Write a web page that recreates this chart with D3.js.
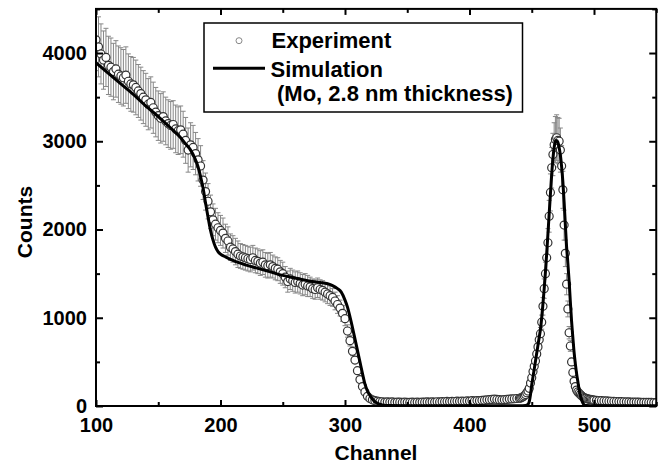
<!DOCTYPE html>
<html><head><meta charset="utf-8">
<script src="https://cdn.jsdelivr.net/npm/d3@7"></script>
<style>body{margin:0;background:#fff} svg{display:block}</style>
</head><body>
<svg id="c" width="660" height="464"></svg>
<script>
// ---------- data ----------
const expChannel = [
100,102,104,106,108,110,112,114,116,118,
120,122,124,126,128,130,132,134,136,138,
140,142,144,146,148,150,152,154,156,158,
160,162,164,166,168,170,172,174,176,178,
180,182,184,186,188,190,192,194,196,198,
200,202,204,206,208,210,212,214,216,218,
220,222,224,226,228,230,232,234,236,238,
240,242,244,246,248,250,252,254,256,258,
260,262,264,266,268,270,272,274,276,278,
280,282,284,286,288,290,292,294,296,298,
300,302,304,306,308,310,312,314,316,318,
320,322,324,326,328,330,332,334,336,338,
340,342,344,346,348,350,352,354,356,358,
360,362,364,366,368,370,372,374,376,378,
380,382,384,386,388,390,392,394,396,398,
400,402,404,406,408,410,412,414,416,418,
420,422,424,426,428,430,432,434,436,438,
440,
441,442,443,444,445,446,447,448,449,450,
451,452,453,454,455,456,457,458,459,460,
461,462,463,464,465,466,467,468,469,470,
471,472,473,474,475,476,477,478,479,480,
481,482,483,484,485,486,487,488,489,490,
491,492,493,494,495,496,497,498,499,500,
502,504,506,508,510,512,514,516,518,520,
522,524,526,528,530,532,534,536,538,540,
542,544,546,548,550];
const expCounts = [
4150,4070,3990,3920,3950,3860,3840,3790,3820,3760,
3740,3720,3750,3680,3650,3640,3610,3570,3540,3500,
3470,3420,3440,3380,3330,3290,3260,3280,3230,3200,
3180,3190,3140,3120,3130,3080,3010,2900,2960,2930,
2860,2790,2720,2560,2430,2320,2200,2110,2060,2020,
1990,1960,1900,1870,1800,1780,1750,1720,1700,1690,
1680,1670,1660,1680,1650,1640,1620,1630,1600,1590,
1600,1580,1560,1550,1520,1500,1460,1410,1440,1420,
1400,1410,1390,1370,1380,1360,1350,1330,1320,1340,
1320,1310,1290,1270,1250,1230,1190,1150,1110,1050,
990,850,740,620,520,400,300,220,160,110,
85,70,60,55,50,48,45,47,44,46,
42,45,43,40,44,42,40,43,41,44,
42,45,43,46,44,47,45,48,46,50,
48,52,50,53,51,55,53,56,54,58,
56,60,58,62,60,64,66,70,72,75,
78,74,72,70,72,75,78,80,82,85,
88,
90,95,105,115,130,150,170,200,260,320,
390,450,510,590,670,750,820,950,1130,1330,
1500,1680,1850,2150,2420,2700,2850,2960,3020,3040,
3010,3000,2900,2720,2450,2050,1730,1380,1100,830,
680,500,380,280,220,180,160,145,130,115,
105,95,90,85,80,76,74,71,69,67,
64,62,60,58,57,55,54,52,51,50,
49,48,47,46,45,45,44,43,42,42,
41,40,40,39,38];
const expError = [
350,340,340,330,330,330,330,320,320,320,
320,320,320,310,310,310,310,300,300,300,
300,290,290,290,280,280,280,280,270,270,
270,270,270,270,270,260,260,250,250,250,
240,240,230,220,210,200,190,180,180,170,
170,170,160,160,150,150,150,150,140,140,
140,140,140,140,140,140,140,140,140,140,
140,130,130,130,130,130,120,120,120,120,
120,120,120,120,120,120,110,110,110,110,
110,110,110,110,110,100,100,100,90,90,
80,70,60,50,40,30,30,20,20,10,
10,10,10,10,10,10,10,10,10,10,
10,10,10,10,10,10,10,10,10,10,
10,10,10,10,10,10,10,10,10,10,
10,10,10,10,10,10,10,10,10,10,
10,10,10,10,10,10,10,10,10,10,
10,10,10,10,10,10,10,10,10,10,
10,
10,10,10,10,10,15,15,20,20,30,
30,40,40,50,60,60,70,80,100,110,
130,140,160,180,210,230,240,250,260,260,
260,260,250,230,210,170,150,120,90,70,
60,40,30,20,20,15,15,10,10,10,
10,10,10,10,10,10,10,10,10,10,
10,10,10,10,10,10,10,10,10,10,
10,10,10,10,10,10,10,10,10,10,
10,10,10,10,10];

const simChannel = [100,110,120,130,140,150,160,168,172,176,179,182,184,186,188,190,192,194,196,198,
200,204,210,220,230,240,250,260,270,280,286,290,294,297,300,302,304,306,308,310,
312,314,316,318,320,322,324,327,330,335,350,400,440,445,447,448,449,450,451,452,
453,454,455,456,457,458,459,460,461,462,463,464,465,466,467,468,469,470,471,472,
473,474,475,476,477,478,479,480,481,482,483,484,485,486,487,488,489,490,491,492,
494,500,550];
const simCounts = [3890,3770,3650,3530,3400,3280,3150,3040,2970,2900,2820,2710,2600,2470,2300,2140,1990,1880,1800,1750,
1720,1690,1650,1600,1560,1520,1480,1450,1420,1400,1385,1365,1330,1290,1200,1120,1010,890,760,630,
500,370,250,170,120,80,50,25,12,5,3,3,3,5,20,50,130,240,330,420,
510,600,690,780,870,1000,1160,1330,1520,1730,1950,2180,2400,2620,2800,2930,3000,3010,2990,2930,
2840,2710,2540,2310,2050,1800,1620,1420,1180,960,780,610,480,370,280,190,120,70,35,15,
5,3,3];

const xTicks = [100,200,300,400,500];
const xMinorTicks = [150,250,350,450,550];
const yTicks = [0,1000,2000,3000,4000];
const yMinorTicks = [500,1500,2500,3500,4500];
const xTitle = "Channel", yTitle = "Counts";
const legendLabels = ["Experiment", "Simulation", "(Mo, 2.8 nm thickness)"];

// ---------- drawing ----------
const FONT = "'Liberation Sans', Arial, Helvetica, sans-serif";
const svg = d3.select("#c");
const x = d3.scaleLinear().domain([100,550]).range([96,656.25]);
const y = d3.scaleLinear().domain([0,4500]).range([406,8.9]);

svg.append("defs").append("clipPath").attr("id","clip")
  .append("rect").attr("x",96).attr("y",8.9).attr("width",560.25).attr("height",397.1);

const exp = expChannel.map((c,i)=>({c, v:expCounts[i], e:expError[i]}));
const plot = svg.append("g").attr("clip-path","url(#clip)");

// error bars
const eb = plot.append("g").attr("stroke","#878787").attr("stroke-width",1);
exp.forEach(d=>{
  const xx = x(d.c), y1 = y(d.v+d.e), y2 = y(d.v-d.e);
  eb.append("line").attr("x1",xx).attr("x2",xx).attr("y1",y1).attr("y2",y2);
  eb.append("line").attr("x1",xx-2.5).attr("x2",xx+2.5).attr("y1",y1).attr("y2",y1);
  eb.append("line").attr("x1",xx-2.5).attr("x2",xx+2.5).attr("y1",y2).attr("y2",y2);
});

// experiment circles
plot.append("g").selectAll("circle").data(exp).join("circle")
  .attr("cx",d=>x(d.c)).attr("cy",d=>y(d.v)).attr("r",4)
  .attr("fill","#fff").attr("stroke","#333").attr("stroke-width",1.2);

// simulation line
const sim = simChannel.map((c,i)=>[c, simCounts[i]]);
plot.append("path").datum(sim)
  .attr("fill","none").attr("stroke","#000").attr("stroke-width",3)
  .attr("stroke-linejoin","round")
  .attr("d", d3.line().x(d=>x(d[0])).y(d=>y(d[1])).curve(d3.curveMonotoneX));

// axes
function styleAxis(g){
  g.select(".domain").remove();
  g.selectAll(".tick line").attr("stroke","#000").attr("stroke-width",2);
  g.selectAll("text").attr("font-family",FONT).attr("font-weight","bold")
   .attr("font-size",20).attr("fill","#000");
}
const fmt = d3.format("d");
svg.append("g").attr("transform","translate(0,406)")
  .call(d3.axisBottom(x).tickValues(xTicks).tickSize(-6).tickPadding(12).tickFormat(fmt)).call(styleAxis);
svg.append("g").attr("transform","translate(0,406)")
  .call(d3.axisBottom(x).tickValues(xMinorTicks).tickSize(-4).tickFormat("")).call(styleAxis);
svg.append("g").attr("transform","translate(0,8.9)")
  .call(d3.axisTop(x).tickValues(xTicks).tickSize(-6).tickFormat("")).call(styleAxis);
svg.append("g").attr("transform","translate(0,8.9)")
  .call(d3.axisTop(x).tickValues(xMinorTicks).tickSize(-4).tickFormat("")).call(styleAxis);
svg.append("g").attr("transform","translate(96,0)")
  .call(d3.axisLeft(y).tickValues(yTicks).tickSize(-7).tickPadding(9).tickFormat(fmt)).call(styleAxis);
svg.append("g").attr("transform","translate(96,0)")
  .call(d3.axisLeft(y).tickValues(yMinorTicks).tickSize(-4).tickFormat("")).call(styleAxis);
svg.append("g").attr("transform","translate(656.25,0)")
  .call(d3.axisRight(y).tickValues(yTicks).tickSize(-7).tickFormat("")).call(styleAxis);
svg.append("g").attr("transform","translate(656.25,0)")
  .call(d3.axisRight(y).tickValues(yMinorTicks).tickSize(-4).tickFormat("")).call(styleAxis);

// frame
svg.append("rect").attr("x",96).attr("y",8.9).attr("width",560.25).attr("height",397.1)
  .attr("fill","none").attr("stroke","#000").attr("stroke-width",2);

// titles
svg.append("text").attr("x",376).attr("y",460).attr("text-anchor","middle")
  .attr("font-family",FONT).attr("font-weight","bold").attr("font-size",21).text(xTitle);
svg.append("text").attr("transform","translate(32,222) rotate(-90)").attr("text-anchor","middle")
  .attr("font-family",FONT).attr("font-weight","bold").attr("font-size",21).text(yTitle);

// legend
const lg = svg.append("g");
lg.append("rect").attr("x",204).attr("y",23).attr("width",318.5).attr("height",89)
  .attr("fill","#fff").attr("stroke","#000").attr("stroke-width",1.5);
lg.append("circle").attr("cx",239).attr("cy",40.7).attr("r",3)
  .attr("fill","#fff").attr("stroke","#888").attr("stroke-width",1);
lg.append("line").attr("x1",213).attr("x2",265).attr("y1",68.3).attr("y2",68.3)
  .attr("stroke","#000").attr("stroke-width",3);
const lt = [[271.5,48.3],[270.5,76.5],[277,101]];
legendLabels.forEach((t,i)=>{
  lg.append("text").attr("x",lt[i][0]).attr("y",lt[i][1])
    .attr("font-family",FONT).attr("font-weight","bold").attr("font-size",22).text(t);
});
</script>
</body></html>
